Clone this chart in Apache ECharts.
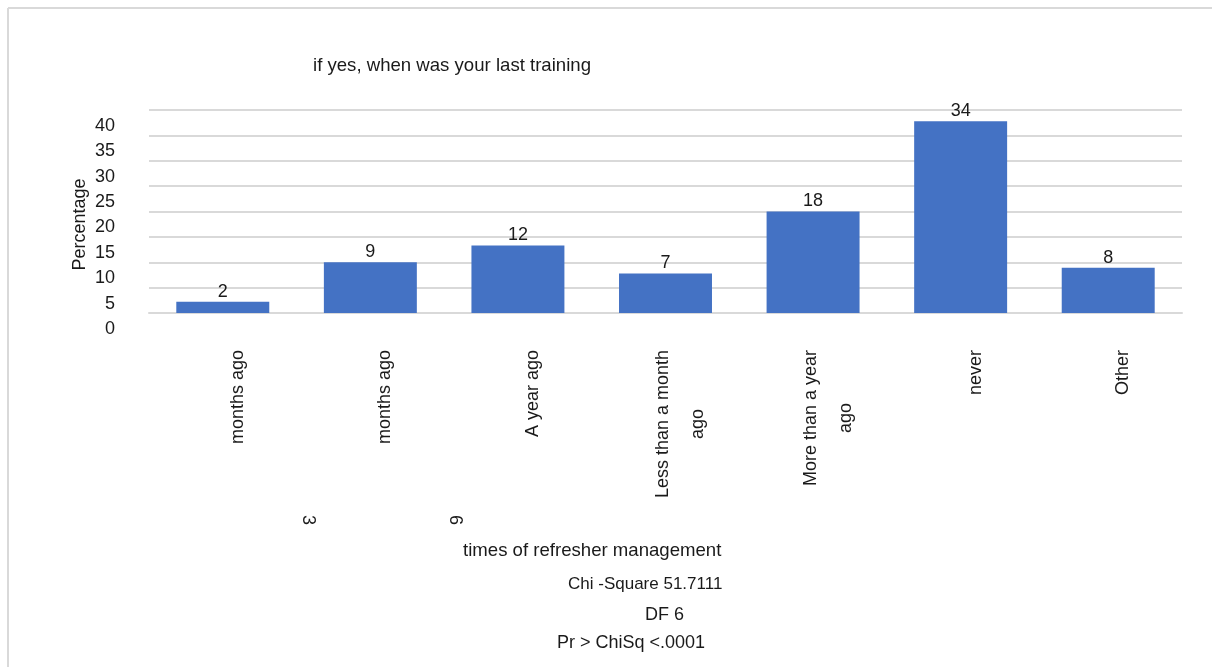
<!DOCTYPE html>
<html lang="en">
<head>
  <meta charset="UTF-8">
  <title>last training</title>
  <script src="https://cdn.jsdelivr.net/npm/echarts@6/dist/echarts.min.js"></script>
  <style>
    body { margin: 0; background: #fff; }
  </style>
</head>
<body>
<div id="box" style="width: 1212px;height: 667px;"></div>
<script>
  // categories, in the order of the bars
  var categories = ['3 months ago', '6 months ago', 'A year ago', 'Less than a month ago',
    'More than a year ago', 'never', 'Other'];
  // how the tick labels are broken into lines on the picture
  var tickLines = [['months ago'], ['months ago'], ['A year ago'], ['Less than a month', 'ago'],
    ['More than a year', 'ago'], ['never'], ['Other']];
  var leadNumbers = ['3', '6'];
  // counts printed on top of the bars
  var counts = [2, 9, 12, 7, 18, 34, 8];
  // bar heights (percentage)
  var percents = [2.2, 10, 13.3, 7.8, 20, 37.8, 8.9];
  var statLines = ['Chi -Square 51.7111', 'DF 6', 'Pr > ChiSq <.0001'];

  var FONT = '"Liberation Sans", Arial, sans-serif';
  var INK = '#1a1a1a';

  function txt(str, x, y, rot, size) {
    return {
      type: 'text', x: x, y: y, rotation: rot || 0,
      style: {
        text: str, font: (size || 18) + 'px ' + FONT, fill: INK,
        align: 'left', textAlign: 'left',
        verticalAlign: 'middle', textVerticalAlign: 'middle'
      }
    };
  }

  var myChart = echarts.init(document.getElementById('box'));
  var option = {
    animation: false,
    title: {
      text: 'if yes, when was your last training',
      left: 313, top: 56, padding: 0,
      textStyle: { fontSize: 18.6, fontWeight: 'normal', color: INK, fontFamily: FONT }
    },
    grid: { left: 149, right: 30, top: 110, bottom: 354 },
    xAxis: {
      type: 'category',
      data: categories,
      axisLine: { lineStyle: { color: '#d9d9d9', width: 2 } },
      axisTick: { show: false },
      axisLabel: {
        interval: 0, rotate: 90, margin: 37,
        padding: [30, 0, 0, 0],
        formatter: function (v, i) {
          return tickLines[i].map(function (s) { return '{c|' + s + '}'; }).join('\n');
        },
        rich: {
          c: { align: 'center', fontSize: 18, lineHeight: 35, color: INK, fontFamily: FONT }
        }
      }
    },
    yAxis: {
      type: 'value', min: 0, max: 40, interval: 5,
      name: 'Percentage', nameLocation: 'middle', nameGap: 60, nameMoveOverlap: false,
      nameTextStyle: { fontSize: 18, color: INK, fontFamily: FONT, padding: [0, 26, 0, 0] },
      axisLine: { show: false },
      axisTick: { show: false },
      splitLine: { lineStyle: { color: '#d9d9d9', width: 2 } },
      axisLabel: {
        margin: 34, verticalAlign: 'top', padding: [8, 0, 0, 0],
        formatter: '{n|{value}}',
        rich: { n: { fontSize: 18, lineHeight: 16, color: INK, fontFamily: FONT } },
        showMinLabel: true, showMaxLabel: true
      }
    },
    series: [{
      type: 'bar',
      data: percents,
      barWidth: '63%',
      itemStyle: { color: '#4472c4' },
      label: {
        show: true, position: 'top', distance: 1,
        fontSize: 18, color: INK, fontFamily: FONT,
        formatter: function (p) { return counts[p.dataIndex]; }
      }
    }],
    graphic: [
      // frame of the figure (top and left edges)
      { type: 'line', shape: { x1: 8, y1: 8, x2: 1212, y2: 8 }, style: { stroke: '#d9d9d9', lineWidth: 2 } },
      { type: 'line', shape: { x1: 8, y1: 8, x2: 8, y2: 667 }, style: { stroke: '#d9d9d9', lineWidth: 2 } },
      txt(leadNumbers[0], 308, 515, -Math.PI / 2),
      txt(leadNumbers[1], 455, 515, -Math.PI / 2),
      txt('times of refresher management', 463, 551, 0, 18.6),
      txt(statLines[0], 568, 584, 0, 17),
      txt(statLines[1], 645, 615),
      txt(statLines[2], 557, 643)
    ]
  };
  myChart.setOption(option);
</script>
</body>
</html>
